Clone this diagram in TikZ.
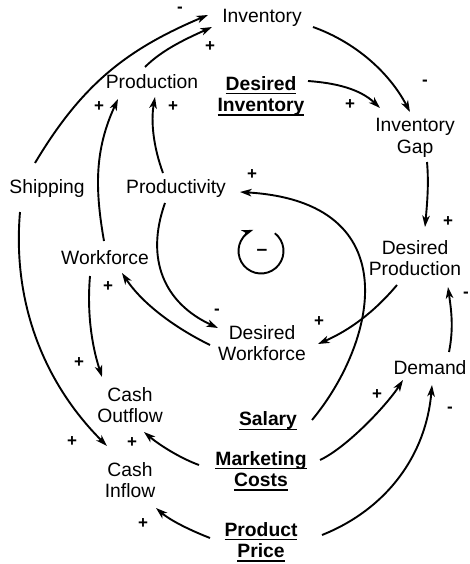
\documentclass[tikz,border=0pt]{standalone}
\usepackage{fontspec}
\setmainfont{Liberation Sans}
\usetikzlibrary{arrows.meta,calc}
% bold text with a rule under it (exogenous variables)
\newsavebox\ulbox
\newcommand\ulbf[1]{\sbox\ulbox{\bfseries #1}\rlap{\rule[-4.3pt]{\wd\ulbox}{1.4pt}}\usebox\ulbox}

\begin{document}
\begin{tikzpicture}[x=1pt,y=1pt,
  var/.style={inner sep=0pt, align=center, font=\fontsize{19.3}{21.5}\selectfont},
  link/.style={line width=1.9pt, -{Stealth[length=11.5pt,width=7.5pt,inset=3.2pt]}},
  sgn/.style={inner sep=0pt, font=\fontsize{17}{17}\selectfont\bfseries},
]
\useasboundingbox (0,0) rectangle (470,-564);

% variables
\node[var] (inv)    at (262,-18)  {Inventory};
\node[var] (prod)   at (152,-82)  {Production};
\node[var] (dinv)   at (261,-96)  {\ulbf{Desired}\\\ulbf{Inventory}};
\node[var] (gap)    at (415,-138) {Inventory\\Gap};
\node[var] (ship)   at (47,-189)  {Shipping};
\node[var] (prodty) at (176,-189) {Productivity};
\node[var] (work)   at (105,-258) {Workforce};
\node[var] (dprod)  at (415,-258) {Desired\\Production};
\node[var] (dwork)  at (262,-343) {Desired\\Workforce};
\node[var] (dem)    at (430,-368) {Demand};
\node[var] (cout)   at (130,-405) {Cash\\Outflow};
\node[var] (cin)    at (130,-480) {Cash\\Inflow};
\node[var] (sal)    at (268,-421) {\ulbf{Salary}};
\node[var] (mkt)    at (261,-471) {\ulbf{Marketing}\\\ulbf{Costs}};
\node[var] (price)  at (261,-542) {\ulbf{Product}\\\ulbf{Price}};

% causal links
\draw[link] ($(ship)+(-12,26)$) .. controls +(46,77) and +(-83,-35) .. ($(inv)+(-54,3)$);
\draw[link] ($(prod)+(-7,15)$) .. controls +(18,18) and +(-24,-11) .. ($(inv)+(-50,-9)$);
\draw[link] ($(work)+(-1,17)$) .. controls +(-9.5,54) and +(-23,-50) .. ($(prod)+(-34,-17)$);
\draw[link] ($(prodty)+(-13,16)$) .. controls +(-9.6,26) and +(-4.3,-24.6) .. ($(prod)+(3,-15)$);
\draw[link] ($(inv)+(51,-9)$) .. controls +(42,-15) and +(-21,40) .. ($(gap)+(-5,26)$);
\draw[link] ($(dinv)+(47,15)$) .. controls +(28,-2) and +(-20,19) .. ($(gap)+(-35,30)$);
\draw[link] ($(gap)+(12,-24)$) .. controls +(2,-22) and +(2,22) .. ($(dprod)+(10,31)$);
\draw[link] ($(dem)+(19,16)$) .. controls +(5,25) and +(3,-22) .. ($(dprod)+(33,-29)$);
\draw[link] ($(dprod)+(-18,-27)$) .. controls +(-22.5,-26.8) and +(32,14) .. ($(dwork)+(56,-1)$);
\draw[link] ($(sal)+(44,1)$) .. controls +(64,77) and +(170,-10) .. ($(prodty)+(64,-3)$);
\draw[link] ($(prodty)+(-11,-14)$) .. controls +(-20,-56) and +(-54,25) .. ($(dwork)+(-44,15)$);
\draw[link] ($(dwork)+(-52,-2)$) .. controls +(-34,16.7) and +(21,-31.5) .. ($(work)+(17,-15)$);
\draw[link] ($(work)+(-15,-18)$) .. controls +(-3,-35) and +(-10.8,33.3) .. ($(cout)+(-28,28)$);
\draw[link] ($(ship)+(-27,-23)$) .. controls +(-7.8,-89.7) and +(-63.6,63.6) .. ($(cin)+(-23,34)$);
\draw[link] ($(mkt)+(-62,6)$) .. controls +(-18.8,6.8) and +(15.3,-12.9) .. ($(cout)+(14,-27)$);
\draw[link] ($(price)+(-51,4)$) .. controls +(-18,7) and +(15,-13) .. ($(cin)+(26,-28)$);
\draw[link] ($(mkt)+(59,11)$) .. controls +(27,12.7) and +(-16.3,-25.2) .. ($(dem)+(-27,-12)$);
\draw[link] ($(price)+(61,7)$) .. controls +(65,26) and +(-6,-70) .. ($(dem)+(2,-17)$);

% link polarities
\node[sgn] (s1)  at (180,-10)  {-};
\node[sgn] (s2)  at (210,-47)  {+};
\node[sgn] (s3)  at (99,-107)  {+};
\node[sgn] (s4)  at (173,-107) {+};
\node[sgn] (s5)  at (425,-83)  {-};
\node[sgn] (s6)  at (350,-105) {+};
\node[sgn] (s7)  at (448,-222) {+};
\node[sgn] (s8)  at (466,-295) {-};
\node[sgn] (s9)  at (319,-322) {+};
\node[sgn] (s10) at (252,-175) {+};
\node[sgn] (s11) at (217,-312) {-};
\node[sgn] (s12) at (108,-287) {+};
\node[sgn] (s13) at (79,-363)  {+};
\node[sgn] (s14) at (72,-442)  {+};
\node[sgn] (s15) at (132,-443) {+};
\node[sgn] (s16) at (143,-524) {+};
\node[sgn] (s17) at (377,-395) {+};
\node[sgn] (s18) at (450,-410) {-};

% balancing loop marker
\coordinate (loopc) at (261,-251);
\node[inner sep=0pt, font=\fontsize{19.3}{20}\selectfont\bfseries] (looptag) at (262,-252) {--};
\draw[link] ($(loopc)+(52:22.5)$) arc[start angle=52, end angle=-250, radius=22.5];
\end{tikzpicture}
\end{document}
